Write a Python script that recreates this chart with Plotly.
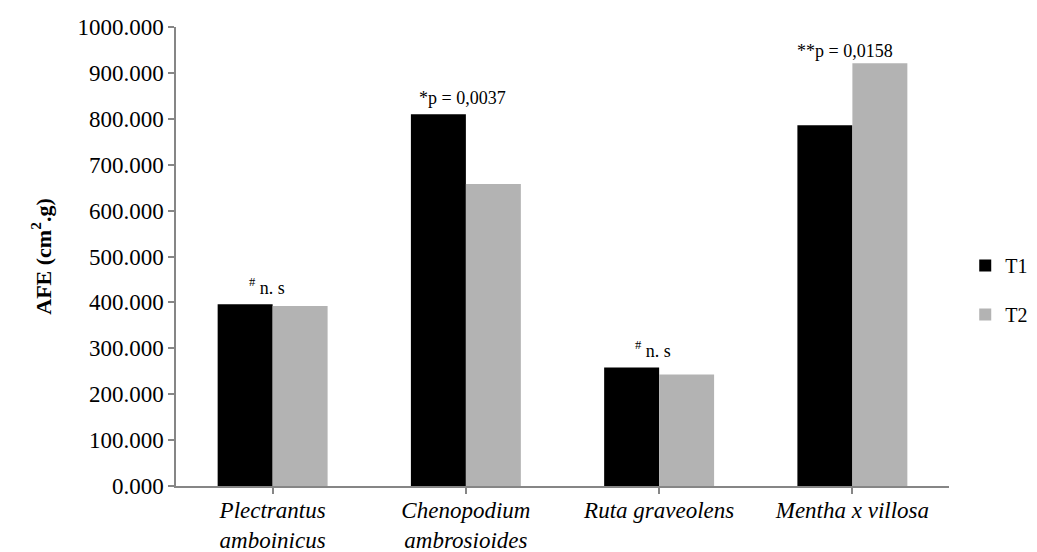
import plotly.graph_objects as go

categories = ["Plectrantus<br>amboinicus", "Chenopodium<br>ambrosioides", "Ruta graveolens", "Mentha x villosa"]
t1_values = [396, 810, 258, 786]
t2_values = [392, 658, 243, 921]
y_ticks = [0, 100, 200, 300, 400, 500, 600, 700, 800, 900, 1000]
y_tick_labels = ["0.000", "100.000", "200.000", "300.000", "400.000", "500.000",
                 "600.000", "700.000", "800.000", "900.000", "1000.000"]
sig_labels = ["<sup>#</sup> n. s", "*p = 0,0037", "<sup>#</sup> n. s", "**p = 0,0158"]
sig_y = [405, 819, 268, 921]
sig_dx = [-0.03, -0.02, -0.03, -0.04]

FONT = "Liberation Serif"
AXIS = "#868686"

fig = go.Figure()
fig.add_trace(go.Bar(name="T1", x=list(range(4)), y=t1_values, marker=dict(color="#000000", line=dict(width=0)),
                     legendgroup="a"))
fig.add_trace(go.Bar(name="T2", x=list(range(4)), y=t2_values, marker=dict(color="#B3B3B3", line=dict(width=0)),
                     legendgroup="b"))

for i, (txt, yv, dx) in enumerate(zip(sig_labels, sig_y, sig_dx)):
    fig.add_annotation(x=i + dx, y=yv, xref="x", yref="y", text=txt, showarrow=False,
                       yanchor="bottom", xanchor="center",
                       font=dict(family=FONT, size=18, color="#000000"))

fig.update_layout(
    width=1037, height=552,
    margin=dict(l=176, r=88, t=27, b=66, autoexpand=False),
    paper_bgcolor="white", plot_bgcolor="white",
    barmode="group", bargap=0.431, bargroupgap=0,
    font=dict(family=FONT, color="#000000"),
    showlegend=True,
    legend=dict(x=1.021, y=0.427, xanchor="left", yanchor="middle",
                font=dict(family=FONT, size=20, color="#000000"),
                traceorder="grouped", tracegroupgap=20, bgcolor="rgba(0,0,0,0)"),
    xaxis=dict(
        tickmode="array", tickvals=list(range(4)), ticktext=categories,
        range=[-0.5, 3.5], tickson="boundaries",
        showline=True, linecolor=AXIS, linewidth=1.5,
        ticks="outside", ticklen=6, tickcolor=AXIS, tickwidth=1.5,
        ticklabelstandoff=-3,
        tickfont=dict(family=FONT, size=23, color="#000000", style="italic"),
        showgrid=False, zeroline=False, fixedrange=True,
    ),
    yaxis=dict(
        range=[0, 1000], tickmode="array", tickvals=y_ticks, ticktext=y_tick_labels,
        showline=True, linecolor=AXIS, linewidth=1.5,
        ticks="outside", ticklen=6, tickcolor=AXIS, tickwidth=1.5,
        tickfont=dict(family=FONT, size=23, color="#000000"),
        showgrid=False, zeroline=False,
        title=dict(text="<b>AFE (cm<sup>2</sup>.g)</b>", standoff=20,
                   font=dict(family=FONT, size=22, color="#000000")),
    ),
)

fig.write_html("out.html")
